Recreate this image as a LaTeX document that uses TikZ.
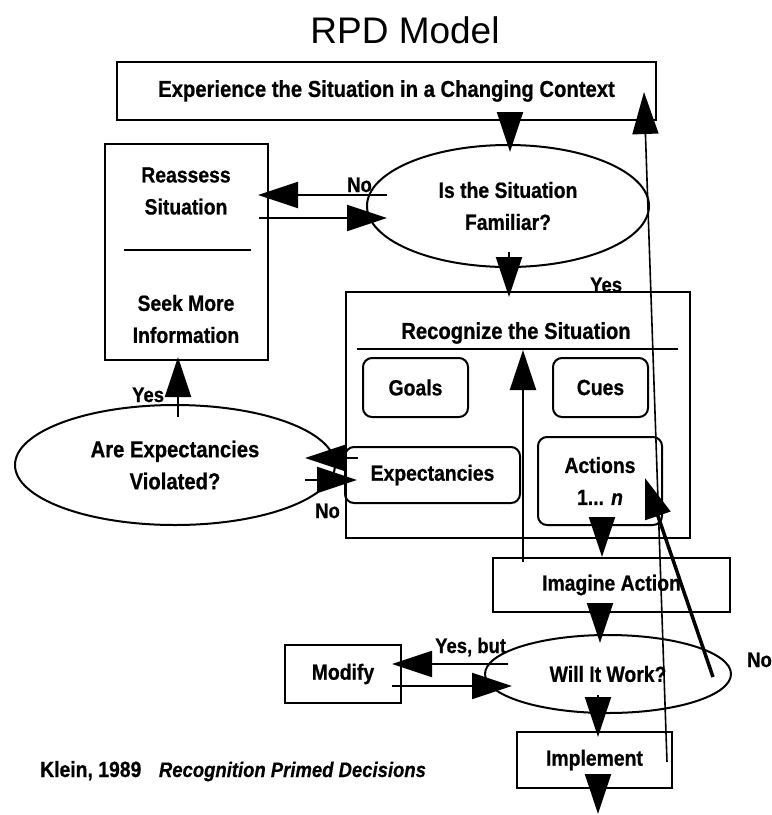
\documentclass[tikz,border=0pt]{standalone}
\usepackage{fontspec}
\setmainfont{Liberation Sans}
\newfontfamily\nar[FakeStretch=0.88, BoldFeatures={FakeBold=0.7}, BoldItalicFeatures={FakeBold=0.5}]{Liberation Sans}
\usetikzlibrary{arrows.meta,shapes.geometric,calc}
\tikzset{
  lbl/.style={font=\nar\bfseries\fontsize{21}{32}\selectfont, inner sep=0pt},
  midl/.style={font=\nar\bfseries\fontsize{22}{32}\selectfont, inner sep=0pt},
  bigl/.style={font=\nar\bfseries\fontsize{23}{32}\selectfont, inner sep=0pt},
  sqbox/.style={draw, line width=2pt, rectangle, inner sep=0pt, align=center, midl},
  rbox/.style={sqbox, rounded corners=9pt},
  oval/.style={draw, line width=2pt, ellipse, inner sep=0pt, align=center, midl},
  arr/.style={line width=2pt, -{Triangle[length=40pt,width=26pt]}},
}
\begin{document}
\begin{tikzpicture}[x=1pt,y=-1pt]
\useasboundingbox (0,0) rectangle (772,815);

% title
\node[anchor=base, inner sep=0pt, font=\fontsize{37}{40}\selectfont] (title) at (405,43) {RPD Model};

% boxes and ovals
\node[sqbox, bigl, minimum width=539pt, minimum height=58pt] (exp) at (386.5,91) {Experience the Situation in a Changing Context};
\node[sqbox, minimum width=163pt, minimum height=216pt] (reassess) at (186.5,252) {};
\node[midl, align=center] (rtop) at (186,191) {Reassess\\Situation};
\node[midl, align=center] (rbot) at (186,319) {Seek More\\Information};
\draw[line width=2pt] (124,250) -- (251,250);

\node[oval, minimum width=282pt, minimum height=122pt] (fam) at (508,206) {Is the Situation\\Familiar?};

\node[sqbox, minimum width=344pt, minimum height=246pt] (recog) at (518,415) {};
\node[bigl] (rtitle) at (516,333) {Recognize the Situation};
\draw[line width=2pt] (357,349) -- (678,349);
\node[rbox, minimum width=105pt, minimum height=59pt] (goals) at (415.5,387.5) {Goals};
\node[rbox, minimum width=95pt, minimum height=59pt] (cues) at (600.5,387.5) {Cues};
\node[rbox, minimum width=175pt, minimum height=56pt] (expect) at (432.5,475) {Expectancies};
\node[rbox, minimum width=124pt, minimum height=88pt] (actions) at (600,481) {Actions\\1... \textit{n}};

\node[oval, bigl, minimum width=320pt, minimum height=120pt] (viol) at (175,465) {Are Expectancies\\Violated?};

\node[sqbox, minimum width=237pt, minimum height=54pt] (imagine) at (611.5,585) {Imagine Action};
\node[oval, minimum width=246pt, minimum height=78pt] (will) at (608,674) {Will It Work?};
\node[sqbox, minimum width=116pt, minimum height=58pt] (modify) at (343,674) {Modify};
\node[sqbox, minimum width=155pt, minimum height=56pt] (impl) at (594.5,760) {Implement};

% reference line
\node[anchor=base west, inner sep=0pt, font=\nar\bfseries\fontsize{22}{26}\selectfont] (klein) at (40,777) {Klein, 1989\hspace{0.8em}{\fontsize{21}{26}\selectfont\textit{Recognition Primed Decisions}}};

% connector end points
\coordinate (a1s) at (510,119);  \coordinate (a1e) at (510,152);
\coordinate (a2s) at (387,195);  \coordinate (a2e) at (258,195);
\coordinate (a3s) at (259,218);  \coordinate (a3e) at (387,218);
\coordinate (a4s) at (509,252);  \coordinate (a4e) at (509,297);
\coordinate (a5s) at (178,417);  \coordinate (a5e) at (178,357);
\coordinate (a6s) at (358,458);  \coordinate (a6e) at (305,458);
\coordinate (a7s) at (305,480);  \coordinate (a7e) at (357,480);
\coordinate (a8s) at (523,562);  \coordinate (a8e) at (523,350);
\coordinate (a9s) at (602,518);  \coordinate (a9e) at (602,557);
\coordinate (b1s) at (600,603);  \coordinate (b1e) at (600,643);
\coordinate (b2s) at (508,664);  \coordinate (b2e) at (392,664);
\coordinate (b3s) at (392,686);  \coordinate (b3e) at (512,686);
\coordinate (b4s) at (598,695);  \coordinate (b4e) at (598,737);
\coordinate (b5s) at (598,775);  \coordinate (b5e) at (598,814);
\coordinate (nos) at (713,677);  \coordinate (noe) at (645,478);
\coordinate (lps) at (667,762);  \coordinate (lpe) at (644,92);

\draw[arr] (a1s) -- (a1e);
\draw[arr] (a2s) -- (a2e);
\draw[arr] (a3s) -- (a3e);
\draw[arr] (a4s) -- (a4e);
\draw[arr] (a5s) -- (a5e);
\draw[arr] (a6s) -- (a6e);
\draw[arr] (a7s) -- (a7e);
\draw[arr] (a8s) -- (a8e);
\draw[arr] (a9s) -- (a9e);
\draw[arr] (b1s) -- (b1e);
\draw[arr] (b2s) -- (b2e);
\draw[arr] (b3s) -- (b3e);
\draw[arr] (b4s) -- (b4e);
\draw[arr] (b5s) -- (b5e);
\draw[line width=3.5pt, -{Triangle[length=40pt,width=26pt]}] (nos) -- (noe);
\draw[line width=1.6pt, -{Triangle[length=42pt,width=26pt]}] (lps) -- (lpe);

% labels
\node[lbl, anchor=base west] (lno1) at (347,192) {No};
\node[lbl, anchor=base west] (lyes1) at (590,292) {Yes};
\node[lbl, anchor=base west] (lyes2) at (132,402) {Yes};
\node[lbl, anchor=base west] (lno2) at (315,518) {No};
\node[lbl, anchor=base west] (lyb) at (435,653) {Yes, but};
\node[lbl, anchor=base west] (lno3) at (747,667) {No};
\end{tikzpicture}
\end{document}
